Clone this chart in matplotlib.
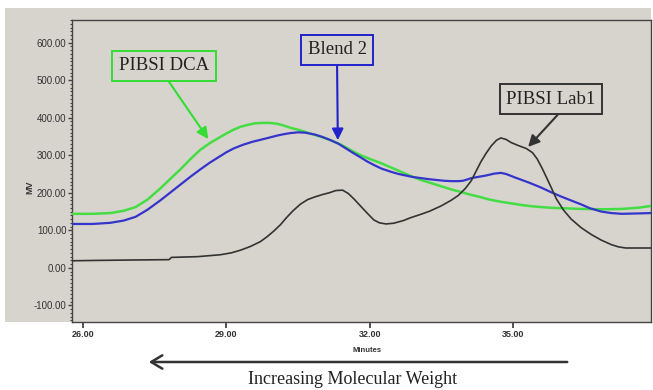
import matplotlib
matplotlib.use("Agg")
import matplotlib.pyplot as plt
from matplotlib.patches import Rectangle, FancyArrowPatch

# ---- data ----
green_x = [25.77, 26.2, 26.57, 26.85, 27.1, 27.35, 27.62, 27.85, 28.05, 28.25, 28.45, 28.65,
           28.85, 29.0, 29.15, 29.3, 29.45, 29.6, 29.75, 29.9, 30.05, 30.2, 30.34, 30.55,
           30.8, 31.0, 31.18, 31.35, 31.5, 31.65, 31.81, 32.0, 32.23, 32.45, 32.65, 32.85,
           33.07, 33.3, 33.5, 33.7, 33.91, 34.1, 34.3, 34.5, 34.74, 35.0, 35.2, 35.4,
           35.58, 35.8, 36.0, 36.42, 36.9, 37.26, 37.6, 37.88]
green_y = [144, 144, 146, 152, 162, 182, 212, 240, 264, 290, 314, 332,
           347, 358, 368, 376, 381, 385, 386, 386, 384, 379, 373, 366,
           356, 348, 340, 331, 321, 310, 300, 290, 279, 267, 256, 245,
           234, 225, 217, 209, 202, 195, 189, 182, 176, 171, 167, 164,
           162, 160, 159, 157, 156, 157, 160, 165]

blue_x = [25.77, 26.2, 26.57, 26.85, 27.1, 27.35, 27.62, 27.85, 28.05, 28.25, 28.45, 28.65,
          28.85, 29.0, 29.15, 29.35, 29.55, 29.71, 29.9, 30.05, 30.2, 30.34, 30.5, 30.65,
          30.85, 31.0, 31.18, 31.35, 31.5, 31.65, 31.81, 31.95, 32.1, 32.25, 32.44, 32.6,
          32.75, 32.9, 33.07, 33.25, 33.4, 33.55, 33.7, 33.85, 33.95, 34.05, 34.12, 34.25,
          34.43, 34.6, 34.74, 34.85, 34.95, 35.05, 35.16, 35.35, 35.58, 35.8, 36.0, 36.2,
          36.42, 36.6, 36.84, 37.05, 37.26, 37.6, 37.88]
blue_y = [117, 117, 120, 126, 136, 155, 180, 203, 223, 243, 262, 280,
          296, 308, 318, 328, 336, 341, 347, 352, 356, 359, 361, 360,
          355, 349, 340, 330, 318, 306, 294, 283, 273, 264, 256, 250,
          246, 242, 239, 236, 234, 232, 231, 231, 232, 236, 239, 242,
          246, 251, 253, 250, 245, 240, 235, 226, 214, 201, 190, 180,
          169, 159, 150, 146, 144, 145, 146]

black_x = [25.77, 26.3, 27.0, 27.8, 27.85, 28.4, 28.87, 29.1, 29.29, 29.5, 29.71, 29.85,
           29.99, 30.13, 30.25, 30.4, 30.55, 30.7, 30.85, 31.0, 31.15, 31.29, 31.43, 31.55,
           31.68, 31.81, 31.95, 32.08, 32.2, 32.34, 32.5, 32.7, 32.86, 33.05, 33.25, 33.49,
           33.7, 33.85, 34.0, 34.12, 34.22, 34.32, 34.43, 34.54, 34.65, 34.74, 34.85, 34.95,
           35.1, 35.27, 35.4, 35.5, 35.6, 35.69, 35.8, 35.9, 36.05, 36.21, 36.42, 36.63,
           36.84, 37.05, 37.2, 37.35, 37.6, 37.88]
black_y = [19, 20, 21, 22, 28, 30, 35, 40, 47, 57, 70, 83,
           98, 115, 133, 153, 170, 182, 189, 195, 200, 206, 207, 198,
           182, 164, 145, 128, 120, 117, 119, 126, 134, 142, 151, 165,
           180, 193, 212, 232, 257, 282, 305, 325, 340, 346, 342, 334,
           326, 318, 307, 290, 266, 242, 212, 184, 154, 130, 107, 89,
           74, 62, 56, 53, 53, 53]

x_ticks = [26, 29, 32, 35]
y_ticks = [-100, 0, 100, 200, 300, 400, 500, 600]

labels = ["PIBSI DCA", "Blend 2", "PIBSI Lab1"]
tips = [(28.62, 343), (31.33, 340), (35.31, 322)]

# ---- figure ----
W, H = 653, 390
fig = plt.figure(figsize=(W / 100, H / 100), dpi=100)
fig.patch.set_facecolor("white")
bg = "#d7d4cd"
fig.add_artist(Rectangle((5 / W, 68 / H), 646 / W, 314 / H, transform=fig.transFigure,
                         facecolor=bg, edgecolor="none", zorder=-10))

ax = fig.add_axes([72 / W, 68 / H, 579 / W, 302 / H])
ax.set_facecolor(bg)
ax.set_xlim(25.77, 37.88)
ax.set_ylim(-144, 660)

ax.plot(green_x, green_y, color="#44dd44", lw=1.8, zorder=3)
ax.plot(blue_x, blue_y, color="#3535cc", lw=1.6, zorder=4)
ax.plot(black_x, black_y, color="#333333", lw=1.2, zorder=5)

for s in ax.spines.values():
    s.set_color("#444444")
    s.set_linewidth(1.0)

ax.set_xticks(x_ticks)
ax.set_xticklabels([f"{v:.2f}" for v in x_ticks], fontsize=6.5, fontweight="bold",
                   color="#333333", family=["Liberation Sans", "DejaVu Sans"])
ax.set_yticks(y_ticks)
ax.set_yticklabels([f"{v:.2f}" for v in y_ticks], fontsize=7, color="#333333",
                   family=["Liberation Sans Narrow", "Liberation Sans", "DejaVu Sans"])
ax.set_yticks(range(-140, 661, 10), minor=True)
ax.tick_params(axis="y", which="major", length=3, width=1, color="#444444", pad=1)
ax.tick_params(axis="y", which="minor", length=1.5, width=0.8, color="#444444")
ax.tick_params(axis="x", which="major", length=4, width=1.2, color="#333333", pad=2)

fig.text(367 / W, 1 - 350 / H, "Minutes", fontsize=5.5, fontweight="bold", color="#333333",
         ha="center", va="center", family=["Liberation Sans", "DejaVu Sans"])
fig.text(30 / W, 1 - 187 / H, "MV", fontsize=6.5, fontweight="bold", color="#333333",
         ha="center", va="center", rotation=90, family=["Liberation Sans", "DejaVu Sans"])

# ---- callouts ----
box_pos = [(164, 66), (337, 50), (551, 99)]
colors = ["#33dd33", "#2222cc", "#333333"]
relpos = [(0.5, 0.0), (0.5, 0.0), (0.65, 0.0)]
for lab, tip, (bx, by), c, rp in zip(labels, tips, box_pos, colors, relpos):
    ax.annotate(lab, xy=tip, xycoords="data",
                xytext=(bx, H - by), textcoords="figure pixels",
                ha="center", va="center", fontsize=13.5, color="#222222",
                family=["Liberation Serif", "DejaVu Serif"],
                bbox=dict(boxstyle="square,pad=0.35", fc=bg, ec=c, lw=1.4),
                arrowprops=dict(arrowstyle="-|>,head_length=0.5,head_width=0.25",
                                color=c, lw=1.5, relpos=rp, shrinkA=0, shrinkB=0),
                zorder=6, annotation_clip=False)

# ---- bottom arrow and caption ----
fig.add_artist(FancyArrowPatch((570 / W, 28 / H), (146 / W, 28 / H),
                               transform=fig.transFigure,
                               arrowstyle="->,head_length=5,head_width=3",
                               color="#333333", lw=1.8, mutation_scale=1.6))
fig.text(353 / W, 11 / H, "Increasing Molecular Weight", fontsize=13, color="#222222",
         ha="center", va="center", family=["Liberation Serif", "DejaVu Serif"])

fig.savefig("out.png", dpi=100, facecolor="white")
